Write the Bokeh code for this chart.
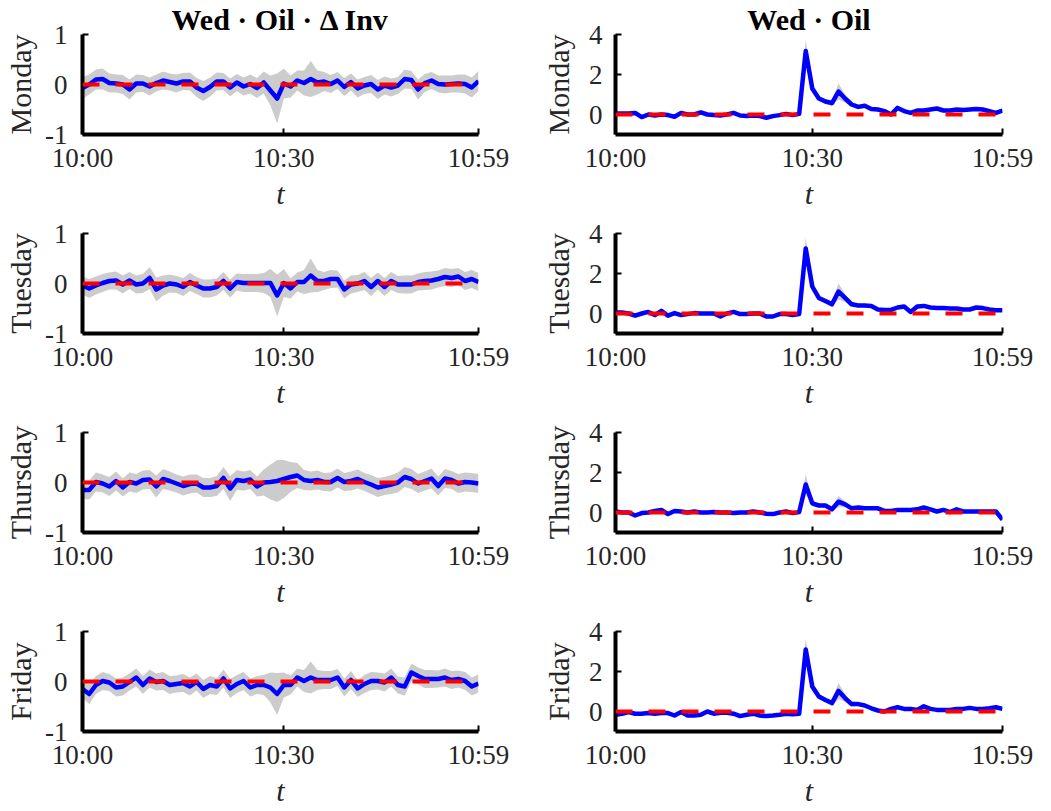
import numpy as np
from bokeh.plotting import figure
from bokeh.layouts import gridplot
from bokeh.models import FixedTicker, Span, Range1d
from bokeh.embed import file_html
from bokeh.resources import INLINE

# ---------------- data ----------------
minutes = list(range(60))
days = ["Monday", "Tuesday", "Thursday", "Friday"]
x_tick_pos = [0, 30, 59]
x_tick_labels = ["10:00", "10:30", "10:59"]
col_titles = ["Wed · Oil · Δ Inv", "Wed · Oil"]
left_yticks = [-1, 0, 1]
left_ytick_labels = ["-1", "0", "1"]
right_yticks = [0, 2, 4]
right_ytick_labels = ["0", "2", "4"]
ref_level = 0

# Left column (Δ Inv): mean and half-width of band
mon_inv = [-0.07, 0.0, 0.1, 0.11, 0.03, 0.02, 0.0, -0.1, 0.02, 0.02,
           -0.04, 0.03, 0.08, 0.05, 0.02, 0.06, 0.06, -0.06, -0.13, -0.05,
           0.06, 0.06, -0.06, 0.04, -0.04, 0.01, -0.07, 0.04, -0.12, -0.28,
           0.02, -0.04, 0.08, 0.03, 0.11, 0.04, 0.06, 0.01, 0.08, -0.05,
           0.05, -0.08, -0.02, 0.01, -0.1, -0.02, -0.06, -0.02, 0.11, 0.09,
           -0.1, 0.03, 0.08, 0.01, 0.0, 0.01, 0.02, 0.01, -0.06, 0.07]
mon_inv_hw = [0.22, 0.2, 0.2, 0.21, 0.19, 0.18, 0.19, 0.2, 0.18, 0.17,
              0.18, 0.17, 0.18, 0.17, 0.18, 0.17, 0.18, 0.19, 0.2, 0.19,
              0.18, 0.17, 0.18, 0.17, 0.18, 0.19, 0.2, 0.22, 0.3, 0.5,
              0.3, 0.22, 0.2, 0.25, 0.36, 0.24, 0.19, 0.18, 0.17, 0.18,
              0.17, 0.18, 0.17, 0.18, 0.19, 0.18, 0.18, 0.17, 0.19, 0.18,
              0.2, 0.18, 0.17, 0.17, 0.18, 0.17, 0.18, 0.19, 0.2, 0.2]

tue_inv = [-0.04, -0.1, -0.04, 0.01, 0.05, 0.06, -0.02, 0.06, -0.02, 0.0,
           0.11, -0.12, -0.04, 0.0, -0.02, -0.07, 0.03, -0.04, -0.1, -0.1,
           -0.07, 0.05, -0.1, 0.03, 0.01, 0.01, 0.01, 0.01, 0.01, -0.24,
           0.01, -0.1, 0.03, 0.03, 0.16, 0.05, 0.05, 0.09, 0.09, -0.12,
           -0.02, 0.0, 0.05, -0.07, 0.05, -0.07, 0.05, -0.02, -0.02, -0.02,
           0.03, 0.05, 0.06, 0.09, 0.13, 0.11, 0.14, 0.05, 0.09, 0.03]
tue_inv_hw = [0.18, 0.19, 0.18, 0.18, 0.17, 0.18, 0.18, 0.17, 0.18, 0.19,
              0.22, 0.24, 0.2, 0.18, 0.17, 0.18, 0.18, 0.17, 0.18, 0.18,
              0.17, 0.18, 0.18, 0.17, 0.18, 0.18, 0.18, 0.2, 0.28, 0.42,
              0.28, 0.2, 0.19, 0.24, 0.34, 0.22, 0.18, 0.18, 0.17, 0.18,
              0.18, 0.17, 0.18, 0.18, 0.17, 0.18, 0.18, 0.17, 0.18, 0.18,
              0.17, 0.18, 0.18, 0.17, 0.18, 0.18, 0.17, 0.18, 0.18, 0.18]

thu_inv = [-0.15, -0.15, 0.01, -0.02, -0.08, 0.03, -0.1, 0.01, -0.02, 0.05,
           0.06, -0.08, 0.07, 0.03, -0.02, -0.07, -0.03, -0.02, -0.1, -0.1,
           -0.07, 0.09, -0.12, 0.05, 0.03, 0.06, -0.08, 0.0, 0.01, 0.03,
           0.07, 0.11, 0.14, 0.05, 0.03, 0.05, 0.01, 0.01, 0.09, 0.01,
           0.03, 0.07, 0.01, -0.04, -0.1, -0.07, -0.04, 0.0, 0.11, 0.07,
           -0.02, 0.03, 0.08, -0.07, 0.08, 0.05, -0.02, 0.01, 0.0, -0.02]
thu_inv_hw = [0.18, 0.19, 0.19, 0.18, 0.19, 0.19, 0.18, 0.19, 0.19, 0.19,
              0.19, 0.22, 0.2, 0.19, 0.18, 0.19, 0.19, 0.18, 0.19, 0.19,
              0.2, 0.22, 0.25, 0.2, 0.19, 0.19, 0.2, 0.26, 0.35, 0.42,
              0.38, 0.3, 0.25, 0.2, 0.19, 0.19, 0.18, 0.19, 0.19, 0.18,
              0.19, 0.19, 0.18, 0.19, 0.19, 0.18, 0.19, 0.2, 0.2, 0.2,
              0.19, 0.19, 0.2, 0.19, 0.19, 0.18, 0.19, 0.19, 0.19, 0.19]

fri_inv = [-0.15, -0.25, -0.07, 0.01, -0.02, -0.12, -0.1, -0.01, 0.08, -0.07,
           0.06, -0.01, 0.01, -0.07, -0.05, -0.03, -0.1, -0.01, -0.15, -0.07,
           -0.1, 0.06, -0.14, -0.05, 0.01, -0.12, -0.07, -0.07, -0.12, -0.25,
           -0.07, -0.07, 0.08, 0.01, 0.08, 0.03, 0.03, 0.03, 0.08, -0.12,
           0.03, -0.14, -0.05, 0.01, 0.01, -0.02, 0.08, -0.07, -0.1, 0.18,
           0.11, 0.05, 0.05, 0.05, 0.08, 0.03, 0.05, 0.01, -0.1, -0.04]
fri_inv_hw = [0.18, 0.2, 0.18, 0.18, 0.17, 0.18, 0.18, 0.17, 0.18, 0.18,
              0.18, 0.17, 0.18, 0.18, 0.17, 0.18, 0.18, 0.17, 0.18, 0.18,
              0.17, 0.18, 0.19, 0.18, 0.18, 0.18, 0.18, 0.2, 0.3, 0.42,
              0.25, 0.19, 0.18, 0.22, 0.32, 0.2, 0.18, 0.18, 0.17, 0.18,
              0.18, 0.17, 0.18, 0.18, 0.17, 0.18, 0.18, 0.17, 0.18, 0.18,
              0.17, 0.18, 0.18, 0.17, 0.18, 0.18, 0.17, 0.18, 0.18, 0.18]

# Right column (Oil): mean and half-width of band
mon_oil = [0.05, 0.05, 0.05, 0.08, -0.13, 0.0, -0.05, 0.0, -0.03, -0.11,
           0.08, 0.0, 0.0, 0.11, 0.0, -0.03, -0.05, 0.0, 0.08, -0.05,
           -0.08, -0.05, -0.08, -0.16, -0.08, -0.03, 0.03, -0.03, 0.03, 3.18,
           1.3, 0.8, 0.65, 0.57, 1.15, 0.8, 0.5, 0.38, 0.44, 0.28,
           0.25, 0.17, 0.0, 0.33, 0.17, 0.08, 0.2, 0.2, 0.25, 0.3,
           0.2, 0.2, 0.25, 0.22, 0.25, 0.28, 0.25, 0.17, 0.08, 0.2]
tue_oil = [0.05, 0.05, 0.0, -0.11, 0.0, 0.08, -0.08, 0.13, -0.11, 0.02,
           -0.08, -0.03, 0.02, 0.0, 0.0, 0.0, -0.15, 0.0, 0.08, -0.03,
           -0.03, 0.0, 0.0, -0.15, -0.15, -0.03, -0.03, -0.08, -0.03, 3.25,
           1.35, 0.78, 0.62, 0.46, 1.1, 0.78, 0.46, 0.4, 0.4, 0.37,
           0.2, 0.18, 0.18, 0.3, 0.35, 0.08, 0.35, 0.38, 0.3, 0.27,
           0.27, 0.25, 0.25, 0.2, 0.2, 0.3, 0.27, 0.2, 0.16, 0.16]
thu_oil = [0.05, 0.0, 0.0, -0.15, -0.03, 0.0, 0.08, 0.13, -0.08, 0.08,
           0.05, 0.0, 0.05, 0.0, 0.0, 0.02, 0.0, 0.0, -0.03, 0.0,
           0.0, 0.05, 0.0, -0.06, -0.08, 0.0, 0.05, -0.03, 0.02, 1.4,
           0.46, 0.35, 0.35, 0.16, 0.54, 0.41, 0.21, 0.25, 0.21, 0.21,
           0.21, 0.08, 0.08, 0.13, 0.13, 0.13, 0.16, 0.25, 0.16, 0.05,
           0.13, 0.02, 0.16, 0.05, 0.05, 0.05, 0.05, 0.05, 0.05, -0.36]
fri_oil = [-0.16, -0.11, -0.03, -0.11, -0.11, -0.08, -0.11, -0.08, -0.08, -0.2,
           -0.03, -0.2, -0.2, -0.16, 0.0, -0.11, -0.06, -0.06, -0.11, -0.23,
           -0.16, -0.11, -0.2, -0.23, -0.2, -0.16, -0.11, -0.14, -0.11, 3.1,
           1.25, 0.75, 0.58, 0.42, 1.03, 0.67, 0.37, 0.37, 0.3, 0.16,
           0.05, 0.0, 0.13, 0.21, 0.13, 0.13, 0.08, 0.26, 0.13, 0.08,
           0.08, 0.08, 0.13, 0.13, 0.18, 0.13, 0.13, 0.16, 0.21, 0.13]
oil_hw = [0.08, 0.07, 0.07, 0.07, 0.07, 0.07, 0.07, 0.07, 0.07, 0.07,
          0.07, 0.07, 0.07, 0.07, 0.07, 0.07, 0.07, 0.07, 0.07, 0.07,
          0.07, 0.07, 0.07, 0.07, 0.07, 0.07, 0.07, 0.07, 0.08, 0.55,
          0.2, 0.12, 0.12, 0.15, 0.4, 0.2, 0.12, 0.1, 0.09, 0.08,
          0.07, 0.07, 0.07, 0.07, 0.07, 0.07, 0.07, 0.07, 0.07, 0.07,
          0.07, 0.07, 0.07, 0.07, 0.07, 0.07, 0.07, 0.07, 0.07, 0.08]
thu_oil_hw = [0.08, 0.07, 0.07, 0.07, 0.07, 0.07, 0.07, 0.07, 0.07, 0.07,
              0.07, 0.07, 0.07, 0.07, 0.07, 0.07, 0.07, 0.07, 0.07, 0.07,
              0.07, 0.07, 0.07, 0.07, 0.07, 0.07, 0.07, 0.07, 0.08, 0.5,
              0.15, 0.1, 0.1, 0.12, 0.28, 0.15, 0.1, 0.08, 0.08, 0.07,
              0.07, 0.07, 0.07, 0.07, 0.07, 0.07, 0.07, 0.07, 0.07, 0.07,
              0.07, 0.07, 0.07, 0.07, 0.07, 0.07, 0.07, 0.07, 0.07, 0.1]

left_series = [(mon_inv, mon_inv_hw), (tue_inv, tue_inv_hw), (thu_inv, thu_inv_hw), (fri_inv, fri_inv_hw)]
right_series = [(mon_oil, oil_hw), (tue_oil, oil_hw), (thu_oil, thu_oil_hw), (fri_oil, oil_hw)]

# ---------------- styling ----------------
FONT = "Liberation Serif"
TICK_SIZE = "27px"
LABEL_SIZE = "30px"
TEXT_COLOR = "#262626"


def make_panel(col, r, mean, hw):
    left = col == 0
    width = 512 if left else 530
    top = 34 if r == 0 else 19
    bottom = 80
    height = top + 100 + bottom
    p = figure(width=width, height=height,
               x_range=Range1d(0, 59),
               y_range=Range1d(-1, 1) if left else Range1d(-1, 4),
               output_backend="svg", toolbar_location=None,
               min_border_left=82 if left else 103,
               min_border_right=34 if left else 40,
               min_border_top=top, min_border_bottom=bottom,
               title=col_titles[col] if r == 0 else None)
    p.outline_line_color = None
    p.grid.visible = False
    p.background_fill_color = "white"
    p.border_fill_color = "white"

    if r == 0:
        p.title.align = "center"
        p.title.text_font = FONT
        p.title.text_font_size = LABEL_SIZE
        p.title.text_font_style = "bold"
        p.title.text_color = "black"
        p.title.standoff = -3

    m = np.array(mean)
    h = np.array(hw)
    p.varea(x=minutes, y1=m - h, y2=m + h, fill_color="#cccccc", fill_alpha=1.0)
    p.add_layout(Span(location=ref_level, dimension="width", line_color="#ff0000",
                      line_width=4, line_dash="17 16"))
    p.line(minutes, mean, line_color="#0000ff", line_width=4.5, line_join="round")

    for ax in (p.xaxis[0], p.yaxis[0]):
        ax.axis_line_width = 4
        ax.axis_line_color = "black"
        ax.major_tick_in = 6
        ax.major_tick_out = 0
        ax.major_tick_line_width = 2
        ax.major_tick_line_color = "black"
        ax.minor_tick_line_color = None
        ax.major_label_text_font = FONT
        ax.major_label_text_font_size = TICK_SIZE
        ax.major_label_text_color = TEXT_COLOR
        ax.axis_label_text_font = FONT
        ax.axis_label_text_font_size = LABEL_SIZE
        ax.axis_label_text_color = TEXT_COLOR

    xa = p.xaxis[0]
    xa.ticker = FixedTicker(ticks=x_tick_pos)
    xa.major_label_overrides = {k: v for k, v in zip(x_tick_pos, x_tick_labels)}
    xa.major_label_standoff = 8
    xa.axis_label = "t"
    xa.axis_label_text_font_style = "italic"
    xa.axis_label_standoff = 1

    ya = p.yaxis[0]
    yt = left_yticks if left else right_yticks
    yl = left_ytick_labels if left else right_ytick_labels
    ya.ticker = FixedTicker(ticks=yt)
    ya.major_label_overrides = {k: v for k, v in zip(yt, yl)}
    ya.major_label_standoff = 15 if left else 13
    ya.axis_label = days[r]
    ya.axis_label_text_font_style = "normal"
    ya.axis_label_standoff = 5 if left else 11
    return p


rows = []
for r in range(4):
    rows.append([make_panel(0, r, *left_series[r]), make_panel(1, r, *right_series[r])])

grid = gridplot(rows, toolbar_location=None)

open("out.html", "w").write(file_html(grid, INLINE))
